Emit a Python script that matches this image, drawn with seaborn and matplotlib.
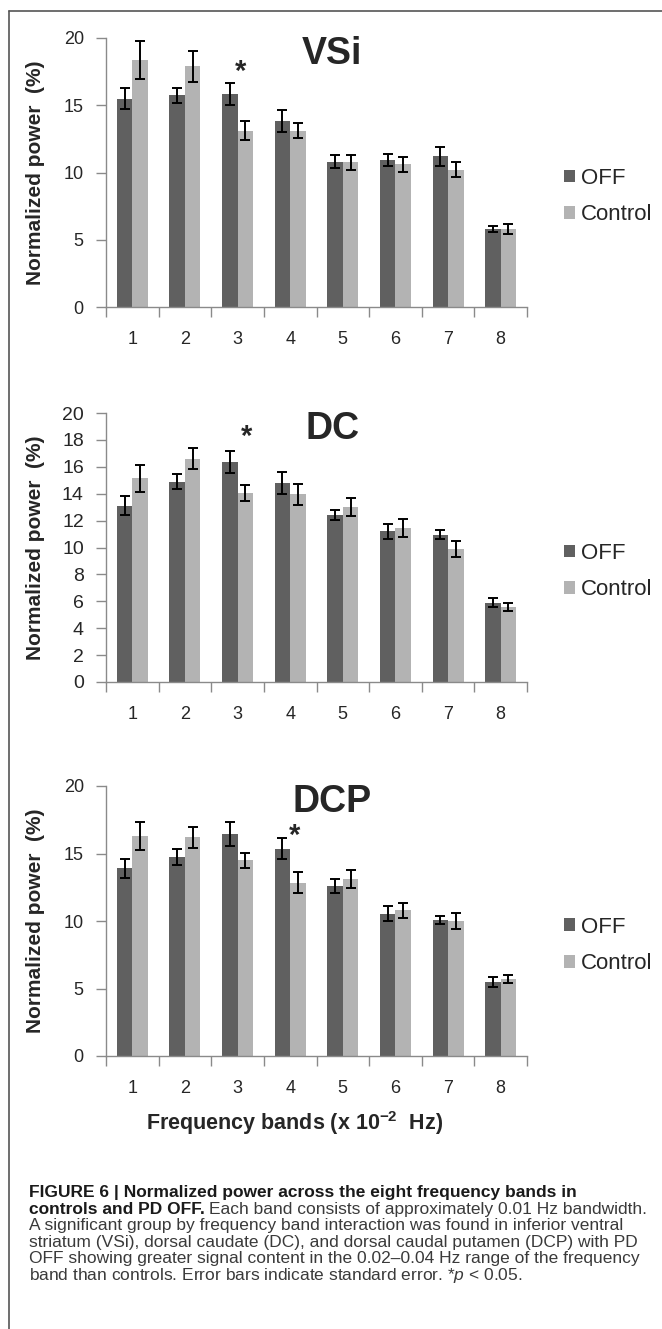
import matplotlib
matplotlib.use("Agg")
import matplotlib.pyplot as plt
import seaborn as sns
import pandas as pd
from matplotlib.lines import Line2D

# ---- data ----
bands = ["1", "2", "3", "4", "5", "6", "7", "8"]
groups = ["OFF", "Control"]

vsi_off = [15.5, 15.75, 15.85, 13.85, 10.8, 10.95, 11.2, 5.8]
vsi_off_se = [0.8, 0.55, 0.8, 0.82, 0.47, 0.45, 0.7, 0.22]
vsi_ctrl = [18.35, 17.9, 13.1, 13.1, 10.75, 10.6, 10.2, 5.8]
vsi_ctrl_se = [1.4, 1.15, 0.7, 0.55, 0.55, 0.57, 0.57, 0.4]

dc_off = [13.1, 14.9, 16.35, 14.8, 12.45, 11.2, 10.95, 5.9]
dc_off_se = [0.72, 0.55, 0.82, 0.8, 0.37, 0.54, 0.35, 0.35]
dc_ctrl = [15.15, 16.6, 14.05, 13.95, 13.0, 11.45, 9.9, 5.57]
dc_ctrl_se = [1.0, 0.8, 0.57, 0.77, 0.66, 0.67, 0.57, 0.32]

dcp_off = [13.9, 14.75, 16.45, 15.35, 12.6, 10.55, 10.05, 5.48]
dcp_off_se = [0.7, 0.6, 0.92, 0.77, 0.52, 0.57, 0.3, 0.35]
dcp_ctrl = [16.3, 16.2, 14.5, 12.85, 13.1, 10.8, 10.0, 5.7]
dcp_ctrl_se = [1.04, 0.8, 0.55, 0.77, 0.67, 0.57, 0.57, 0.3]

regions = ["VSi", "DC", "DCP"]
sig_band = [2, 2, 3]          # band index marked with *
sig_y = [17.5, 18.25, 16.3]

caption_bold1 = "FIGURE 6 | Normalized power across the eight frequency bands in"
caption_bold2 = "controls and PD OFF."
caption_rest2 = "Each band consists of approximately 0.01 Hz bandwidth."
caption_lines = [
    "A significant group by frequency band interaction was found in inferior ventral",
    "striatum (VSi), dorsal caudate (DC), and dorsal caudal putamen (DCP) with PD",
    "OFF showing greater signal content in the 0.02\u20130.04 Hz range of the frequency",
    "band than controls. Error bars indicate standard error. *$p$ < 0.05.",
]

colors = {"OFF": "#606060", "Control": "#b3b3b3"}
axis_gray = "#8a8a8a"

sns.set_style("white")
plt.rcParams["font.family"] = ["Liberation Sans", "DejaVu Sans"]
plt.rcParams["mathtext.fontset"] = "custom"
plt.rcParams["mathtext.rm"] = "Liberation Sans"
plt.rcParams["mathtext.it"] = "Liberation Sans:italic"
plt.rcParams["mathtext.bf"] = "Liberation Sans:bold"

fig = plt.figure(figsize=(6.62, 13.29), dpi=100)
W, H = 662, 1329

panel_data = [
    (vsi_off, vsi_off_se, vsi_ctrl, vsi_ctrl_se, 5, 38, 307),
    (dc_off, dc_off_se, dc_ctrl, dc_ctrl_se, 2, 413, 682),
    (dcp_off, dcp_off_se, dcp_ctrl, dcp_ctrl_se, 5, 786, 1056),
]

for i, (off, off_se, ctrl, ctrl_se, step, top_px, bot_px) in enumerate(panel_data):
    ax = fig.add_axes([106 / W, 1 - bot_px / H, 421 / W, (bot_px - top_px) / H])
    df = pd.DataFrame({
        "band": bands * 2,
        "group": ["OFF"] * len(bands) + ["Control"] * len(bands),
        "value": off + ctrl,
    })
    sns.barplot(data=df, x="band", y="value", hue="group", hue_order=groups,
                palette=colors, width=0.59, saturation=1, errorbar=None, ax=ax,
                linewidth=0)
    errs = {"OFF": off_se, "Control": ctrl_se}
    for cont, g in zip(ax.containers, groups):
        xs = [b.get_x() + b.get_width() / 2 for b in cont]
        hs = [b.get_height() for b in cont]
        ax.errorbar(xs, hs, yerr=errs[g], fmt="none", ecolor="black",
                    elinewidth=1.4, capsize=3.6, capthick=1.4, zorder=5)

    ax.set_xlim(-0.5, 7.5)
    ax.set_ylim(0, 20)
    ax.set_yticks(range(0, 21, step))
    ax.set_xticks(range(len(bands)))
    ax.set_xticklabels(bands)
    ax.set_xticks([k - 0.5 for k in range(len(bands) + 1)], minor=True)
    fs = 14 if i == 1 else 13
    ax.tick_params(axis="x", which="major", length=0, pad=17, labelsize=13)
    ax.tick_params(axis="x", which="minor", length=7, width=1, color=axis_gray,
                   direction="out", bottom=True)
    ax.tick_params(axis="y", length=7, width=1, color=axis_gray, direction="out",
                   left=True, pad=9, labelsize=fs)
    for s in ["top", "right"]:
        ax.spines[s].set_visible(False)
    for s in ["left", "bottom"]:
        ax.spines[s].set_color(axis_gray)
        ax.spines[s].set_linewidth(1)
    ax.set_xlabel("")
    ax.set_ylabel("Normalized power  (%)", fontsize=15, fontweight="bold")
    ax.yaxis.set_label_coords(-0.145, 0.5)

    ax.text(0.537, 0.94, regions[i], transform=ax.transAxes, ha="center",
            va="center", fontsize=27, fontweight="bold")
    off_x = [0.05, 0.18, 0.09][i]
    ax.text(sig_band[i] + off_x, sig_y[i], "*", ha="center", va="center",
            fontsize=21, fontweight="bold")

    ax.legend(loc="center left", bbox_to_anchor=(1.088, 0.41), frameon=False,
              fontsize=16, handlelength=0.5, handleheight=0.5, handletextpad=0.25,
              labelspacing=0.7, borderpad=0, borderaxespad=0)

fig.text(295 / W, 1 - 1123 / H, r"Frequency bands (x 10$^{\mathbf{-2}}$  Hz)",
         ha="center", va="center", fontsize=15.5, fontweight="bold")

# caption
x0 = 29 / W
base = 1197
step_px = 16.6
cap_fs = 12.5
fig.text(x0, 1 - base / H, caption_bold1, fontsize=cap_fs, fontweight="bold",
         color="#1a1a1a", va="baseline")
tb = fig.text(x0, 1 - (base + step_px) / H, caption_bold2, fontsize=cap_fs,
              fontweight="bold", color="#1a1a1a", va="baseline")
r = fig.canvas.get_renderer()
bb = tb.get_window_extent(renderer=r)
fig.text(bb.x1 / W + 4 / W, 1 - (base + step_px) / H, caption_rest2, fontsize=cap_fs,
         color="#3a3a3a", va="baseline")
for k, line in enumerate(caption_lines):
    fig.text(x0, 1 - (base + step_px * (k + 2)) / H, line, fontsize=cap_fs,
             color="#3a3a3a", va="baseline")

# frame around the figure (open on right/bottom like the scan)
fig.add_artist(Line2D([9 / W, 9 / W], [0, 1 - 11 / H], color="#555555", lw=1.2))
fig.add_artist(Line2D([9 / W, 1], [1 - 11 / H, 1 - 11 / H], color="#555555", lw=1.2))

fig.savefig("out.png", dpi=100)
